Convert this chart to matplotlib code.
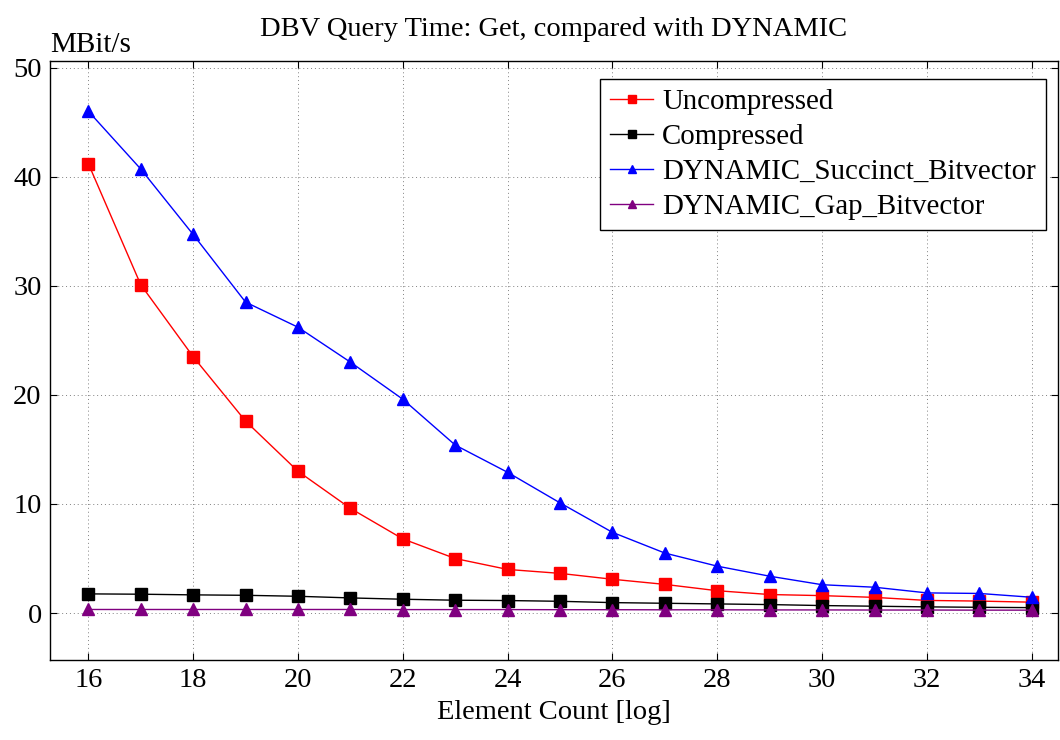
import matplotlib.pyplot as plt

# element count (log2)
element_count = list(range(16, 35))

# MBit/s per implementation
uncompressed = [41.2, 30.1, 23.5, 17.6, 13.0, 9.6, 6.8, 5.0, 4.0, 3.64, 3.1, 2.63,
                2.05, 1.7, 1.6, 1.44, 1.16, 1.1, 1.0]
compressed = [1.76, 1.73, 1.67, 1.63, 1.54, 1.39, 1.27, 1.18, 1.15, 1.08, 0.96, 0.9,
              0.84, 0.78, 0.69, 0.63, 0.57, 0.53, 0.5]
dyn_succinct = [46.0, 40.7, 34.7, 28.5, 26.2, 23.0, 19.6, 15.4, 12.9, 10.1, 7.4, 5.5,
                4.3, 3.38, 2.6, 2.37, 1.85, 1.8, 1.45]
dyn_gap = [0.33, 0.33, 0.33, 0.33, 0.33, 0.33, 0.32, 0.32, 0.32, 0.31, 0.31, 0.3,
           0.3, 0.29, 0.29, 0.28, 0.28, 0.27, 0.27]

plt.rcParams['font.family'] = ['Liberation Serif', 'DejaVu Serif']
plt.rcParams['font.size'] = 20.5

fig = plt.figure(figsize=(10.6, 7.4), dpi=100)
ax = fig.add_axes([0.0472, 0.1081, 0.9509, 0.8095])

ax.plot(element_count, uncompressed, color='red', marker='s', markersize=8.5, lw=1,
        label='Uncompressed')
ax.plot(element_count, compressed, color='black', marker='s', markersize=8.5, lw=1,
        label='Compressed')
ax.plot(element_count, dyn_succinct, color='blue', marker='^', markersize=8.5, lw=1,
        label='DYNAMIC_Succinct_Bitvector')
ax.plot(element_count, dyn_gap, color='purple', marker='^', markersize=8.5, lw=1,
        label='DYNAMIC_Gap_Bitvector')

ax.set_xlim(15.27, 34.5)
ax.set_ylim(-4.3, 50.6)
ax.set_xticks(range(16, 35, 2))
ax.set_yticks(range(0, 51, 10))
ax.tick_params(direction='in', top=True, right=True, length=5, width=0.8, pad=6)
ax.grid(True, linestyle=(0, (1, 3)), color='gray', lw=0.7)
for s in ax.spines.values():
    s.set_linewidth(1)

ax.set_title('DBV Query Time: Get, compared with DYNAMIC', fontsize=20.5, pad=18)
ax.set_xlabel('Element Count [log]', fontsize=20.5, labelpad=5)
ax.text(0.0, 1.015, 'MBit/s', transform=ax.transAxes, fontsize=21, va='baseline', ha='left')

leg = ax.legend(loc='upper right', bbox_to_anchor=(0.988, 0.97), borderaxespad=0,
                fontsize=20.8, fancybox=False, edgecolor='black', framealpha=1,
                handlelength=1.5, handletextpad=0.3, borderpad=0.35,
                labelspacing=0.3, markerscale=0.7)
leg.get_frame().set_linewidth(1)

fig.savefig('out.png', dpi=100)
